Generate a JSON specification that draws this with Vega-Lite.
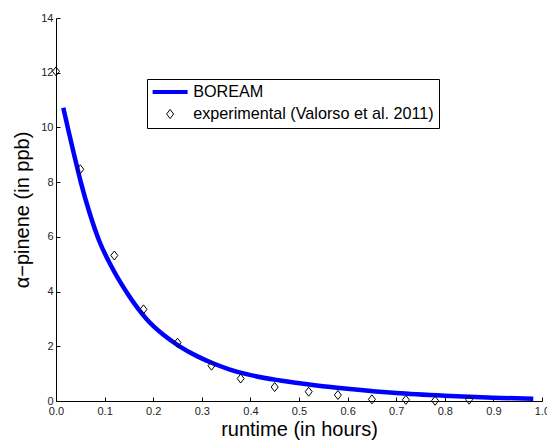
{
  "$schema": "https://vega.github.io/schema/vega-lite/v6.json",
  "width": 486,
  "height": 383,
  "autosize": {"type": "none"},
  "padding": {"left": 56, "top": 18, "right": 5, "bottom": 42},
  "background": "white",
  "config": {
    "view": {"stroke": null},
    "font": "Liberation Sans",
    "axis": {
      "grid": false,
      "domainColor": "#000000",
      "domainWidth": 1,
      "tickColor": "#000000",
      "tickWidth": 1,
      "labelColor": "#222222",
      "labelFontSize": 11,
      "labelFont": "Liberation Sans",
      "titleFont": "Liberation Sans",
      "titleFontSize": 20,
      "titleFontWeight": "normal",
      "titleColor": "#000000",
      "labelFlush": false,
      "labelOverlap": false
    }
  },
  "datasets": {
    "model": [
      {"t": 0.015, "v": 10.72, "series": "BOREAM"},
      {"t": 0.027, "v": 9.78, "series": "BOREAM"},
      {"t": 0.038, "v": 8.95, "series": "BOREAM"},
      {"t": 0.051, "v": 8.0, "series": "BOREAM"},
      {"t": 0.069, "v": 6.88, "series": "BOREAM"},
      {"t": 0.089, "v": 5.85, "series": "BOREAM"},
      {"t": 0.113, "v": 4.95, "series": "BOREAM"},
      {"t": 0.148, "v": 3.9, "series": "BOREAM"},
      {"t": 0.187, "v": 2.98, "series": "BOREAM"},
      {"t": 0.221, "v": 2.42, "series": "BOREAM"},
      {"t": 0.255, "v": 1.99, "series": "BOREAM"},
      {"t": 0.29, "v": 1.64, "series": "BOREAM"},
      {"t": 0.324, "v": 1.37, "series": "BOREAM"},
      {"t": 0.358, "v": 1.15, "series": "BOREAM"},
      {"t": 0.392, "v": 0.98, "series": "BOREAM"},
      {"t": 0.461, "v": 0.75, "series": "BOREAM"},
      {"t": 0.536, "v": 0.57, "series": "BOREAM"},
      {"t": 0.605, "v": 0.44, "series": "BOREAM"},
      {"t": 0.7, "v": 0.29, "series": "BOREAM"},
      {"t": 0.8, "v": 0.19, "series": "BOREAM"},
      {"t": 0.9, "v": 0.12, "series": "BOREAM"},
      {"t": 0.982, "v": 0.08, "series": "BOREAM"}
    ],
    "obs": [
      {"t": 0.0, "v": 12.05, "series": "experimental (Valorso et al. 2011)"},
      {"t": 0.05, "v": 8.47, "series": "experimental (Valorso et al. 2011)"},
      {"t": 0.12, "v": 5.32, "series": "experimental (Valorso et al. 2011)"},
      {"t": 0.18, "v": 3.35, "series": "experimental (Valorso et al. 2011)"},
      {"t": 0.25, "v": 2.13, "series": "experimental (Valorso et al. 2011)"},
      {"t": 0.32, "v": 1.29, "series": "experimental (Valorso et al. 2011)"},
      {"t": 0.38, "v": 0.82, "series": "experimental (Valorso et al. 2011)"},
      {"t": 0.45, "v": 0.51, "series": "experimental (Valorso et al. 2011)"},
      {"t": 0.52, "v": 0.34, "series": "experimental (Valorso et al. 2011)"},
      {"t": 0.58, "v": 0.22, "series": "experimental (Valorso et al. 2011)"},
      {"t": 0.65, "v": 0.06, "series": "experimental (Valorso et al. 2011)"},
      {"t": 0.72, "v": 0.04, "series": "experimental (Valorso et al. 2011)"},
      {"t": 0.78, "v": 0.01, "series": "experimental (Valorso et al. 2011)"},
      {"t": 0.85, "v": 0.05, "series": "experimental (Valorso et al. 2011)"}
    ]
  },
  "encoding": {
    "x": {
      "field": "t",
      "type": "quantitative",
      "scale": {"domain": [0, 1], "nice": false, "zero": false},
      "axis": {
        "title": "runtime (in hours)",
        "values": [0, 0.1, 0.2, 0.3, 0.4, 0.5, 0.6, 0.7, 0.8, 0.9, 1],
        "tickSize": -4,
        "labelPadding": 8,
        "titlePadding": 3
      }
    },
    "y": {
      "field": "v",
      "type": "quantitative",
      "scale": {"domain": [0, 14], "nice": false},
      "axis": {
        "title": "α−pinene (in ppb)",
        "values": [0, 2, 4, 6, 8, 10, 12, 14],
        "tickSize": -4,
        "labelPadding": 7,
        "titlePadding": 8
      }
    },
    "color": {
      "field": "series",
      "type": "nominal",
      "scale": {
        "domain": ["BOREAM", "experimental (Valorso et al. 2011)"],
        "range": ["#0000ff", "#000000"]
      },
      "legend": {
        "title": null,
        "orient": "none",
        "legendX": 91,
        "legendY": 61,
        "direction": "vertical",
        "strokeColor": "#000000",
        "fillColor": "#ffffff",
        "padding": 5,
        "rowPadding": 5,
        "clipHeight": 16,
        "symbolSize": 1225,
        "symbolOffset": 10,
        "labelOffset": 15,
        "labelFontSize": 16.2,
        "labelFont": "Liberation Sans",
        "labelColor": "#000000",
        "labelLimit": 400,
        "encode": {
          "symbols": {
            "update": {
              "size": {"signal": "datum.value === 'BOREAM' ? 1225 : 81"},
              "strokeWidth": {"signal": "datum.value === 'BOREAM' ? 4 : 1"},
              "fill": {"value": "transparent"}
            }
          }
        }
      }
    }
  },
  "layer": [
    {
      "data": {"name": "model"},
      "mark": {"type": "line", "strokeWidth": 4.5, "interpolate": "monotone"}
    },
    {
      "data": {"name": "obs"},
      "mark": {"type": "point", "filled": false, "strokeWidth": 1, "size": 81, "opacity": 1},
      "encoding": {
        "shape": {
          "field": "series",
          "type": "nominal",
          "scale": {
            "domain": ["BOREAM", "experimental (Valorso et al. 2011)"],
            "range": ["stroke", "M0,-1L0.78,0L0,1L-0.78,0Z"]
          },
          "legend": {
            "title": null,
            "orient": "none",
            "legendX": 91,
            "legendY": 61,
            "direction": "vertical",
            "strokeColor": "#000000",
            "fillColor": "#ffffff",
            "padding": 5,
            "rowPadding": 5,
            "clipHeight": 16,
            "symbolSize": 1225,
            "symbolOffset": 10,
            "labelOffset": 15,
            "labelFontSize": 16.2,
            "labelFont": "Liberation Sans",
            "labelColor": "#000000",
            "labelLimit": 400,
            "encode": {
              "symbols": {
                "update": {
                  "size": {"signal": "datum.value === 'BOREAM' ? 1225 : 81"},
                  "strokeWidth": {"signal": "datum.value === 'BOREAM' ? 4 : 1"},
                  "fill": {"value": "transparent"}
                }
              }
            }
          }
        }
      }
    }
  ]
}
